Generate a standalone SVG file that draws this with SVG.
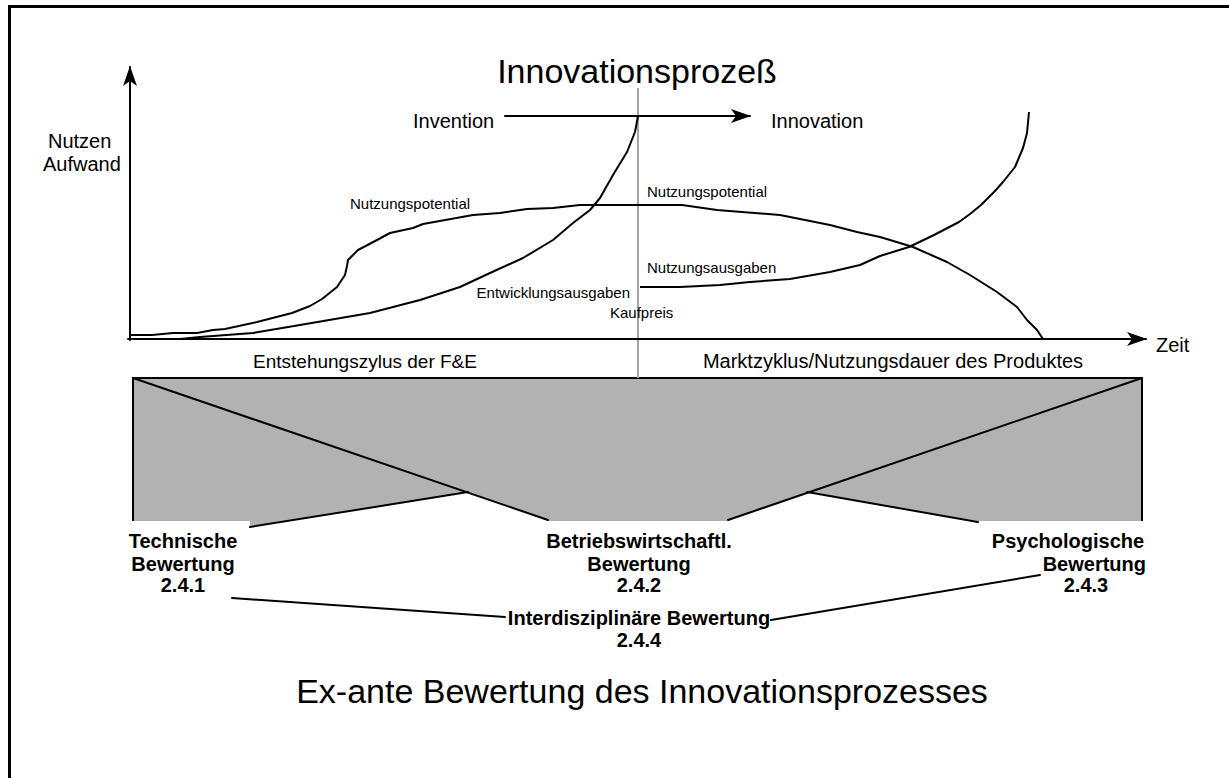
<svg xmlns="http://www.w3.org/2000/svg" width="1229" height="778" viewBox="0 0 1229 778">
<style>
text{font-family:"Liberation Sans",Arial,sans-serif;fill:#000}
.t20{font-size:20px}
.t19{font-size:19px}
.t15{font-size:15px}
.big{font-size:34px}
.b{font-size:20px;font-weight:bold}
.ln{fill:none;stroke:#000;stroke-width:2;stroke-linejoin:round;stroke-linecap:round}
.cv{fill:none;stroke:#000;stroke-width:2;stroke-linejoin:round}
</style>
<defs>
<marker id="ah" viewBox="0 0 20 14" refX="19" refY="7" markerWidth="20" markerHeight="14" markerUnits="userSpaceOnUse" orient="auto">
<path d="M0,0 L20,7 L0,14 L5,7 Z" fill="#000"/>
</marker>
</defs>
<rect x="0" y="0" width="1229" height="778" fill="#fff"/>
<g id="frame">
<path d="M9.5,790 L9.5,6.5 L1240,6.5" fill="none" stroke="#000" stroke-width="3"/>
</g>
<g id="chart-box">
<polygon points="133,378 1142,378 1142,521 978,521 807,492 728,521 548,521 468,492 250,527 250,521 133,521" fill="#b2b2b2"/>
<path d="M133,521 L133,378 L1142,378 L1142,521" fill="none" stroke="#000" stroke-width="2"/>
</g>
<g id="divider">
<line x1="638" y1="88" x2="638" y2="378" stroke="#a6a6a6" stroke-width="2"/>
</g>
<g id="axes">
<line x1="130" y1="340" x2="130" y2="67" class="ln" marker-end="url(#ah)"/>
<line x1="128" y1="339" x2="1146" y2="339" class="ln" marker-end="url(#ah)"/>
<text x="48" y="148" class="t20">Nutzen</text>
<text x="43" y="171" class="t20">Aufwand</text>
<text x="1156" y="352" class="t20">Zeit</text>
</g>
<g id="title">
<text x="637" y="83" class="big" text-anchor="middle">Innovationsprozeß</text>
</g>
<g id="invention">
<text x="413" y="128" class="t20">Invention</text>
</g>
<g id="innovation">
<text x="771" y="128" class="t20">Innovation</text>
</g>
<g id="curve-nutzungspotential">
<polyline class="cv" points="130,335 152,335 173,333 197,333 213,330 225,329 257,322 292,313 310,306 322,299 337,287 345,275 347,266 348,260 358,250 377,240 390,233 413,228 423,224 473,215 500,213 527,209 553,208 580,205 682,205 717,210 780,215 805,220 830,225 857,232 880,237 890,240 913,247 947,262 970,275 997,292 1017,307 1027,320 1037,330 1043,339"/>
<text x="350" y="209" class="t15">Nutzungspotential</text>
<text x="647" y="197" class="t15">Nutzungspotential</text>
</g>
<g id="curve-entwicklungsausgaben">
<polyline class="cv" points="130,339 180,339 200,337 253,333 300,325 370,313 420,300 460,287 490,273 523,258 553,240 573,223 590,210 600,198 613,175 627,152 635,132 638,116"/>
<text x="630" y="298" class="t15" text-anchor="end">Entwicklungsausgaben</text>
<text x="610" y="318" class="t15">Kaufpreis</text>
</g>
<g id="curve-nutzungsausgaben">
<polyline class="cv" points="640,287 680,287 720,285 750,282 790,279 830,272 860,265 880,256 909,247 934,235 959,222 970,214 981,205 995,191 1003,182 1015,167 1023,148 1027,133 1029,112"/>
<text x="647" y="273" class="t15">Nutzungsausgaben</text>
</g>
<g id="phase-labels">
<text x="365" y="368" class="t19" text-anchor="middle">Entstehungszylus der F&amp;E</text>
<text x="893" y="368" class="t20" text-anchor="middle">Marktzyklus/Nutzungsdauer des Produktes</text>
</g>
<g id="technische">
<text x="183" y="548" class="b" text-anchor="middle">Technische</text>
<text x="183" y="571" class="b" text-anchor="middle">Bewertung</text>
<text x="183" y="592" class="b" text-anchor="middle">2.4.1</text>
</g>
<g id="betriebswirtschaftl">
<text x="639" y="548" class="b" text-anchor="middle">Betriebswirtschaftl.</text>
<text x="639" y="571" class="b" text-anchor="middle">Bewertung</text>
<text x="639" y="592" class="b" text-anchor="middle">2.4.2</text>
</g>
<g id="psychologische">
<text x="1068" y="548" class="b" text-anchor="middle">Psychologische</text>
<text x="1146" y="571" class="b" text-anchor="end">Bewertung</text>
<text x="1086" y="592" class="b" text-anchor="middle">2.4.3</text>
</g>
<g id="interdisziplinaer">
<text x="639" y="625" class="b" text-anchor="middle">Interdisziplinäre Bewertung</text>
<text x="639" y="647" class="b" text-anchor="middle">2.4.4</text>
</g>
<g id="subtitle">
<text x="642" y="703" class="big" text-anchor="middle">Ex-ante Bewertung des Innovationsprozesses</text>
</g>
<g id="connectors">
<line x1="505" y1="116" x2="750" y2="116" class="ln" marker-end="url(#ah)"/>
<line x1="133" y1="378" x2="548" y2="520" class="ln"/>
<line x1="1142" y1="378" x2="728" y2="520" class="ln"/>
<line x1="250" y1="527" x2="468" y2="492" class="ln"/>
<line x1="807" y1="492" x2="978" y2="522" class="ln"/>
<line x1="232" y1="598" x2="505" y2="617" class="ln"/>
<line x1="771" y1="620" x2="1040" y2="575" class="ln"/>
</g>
</svg>
